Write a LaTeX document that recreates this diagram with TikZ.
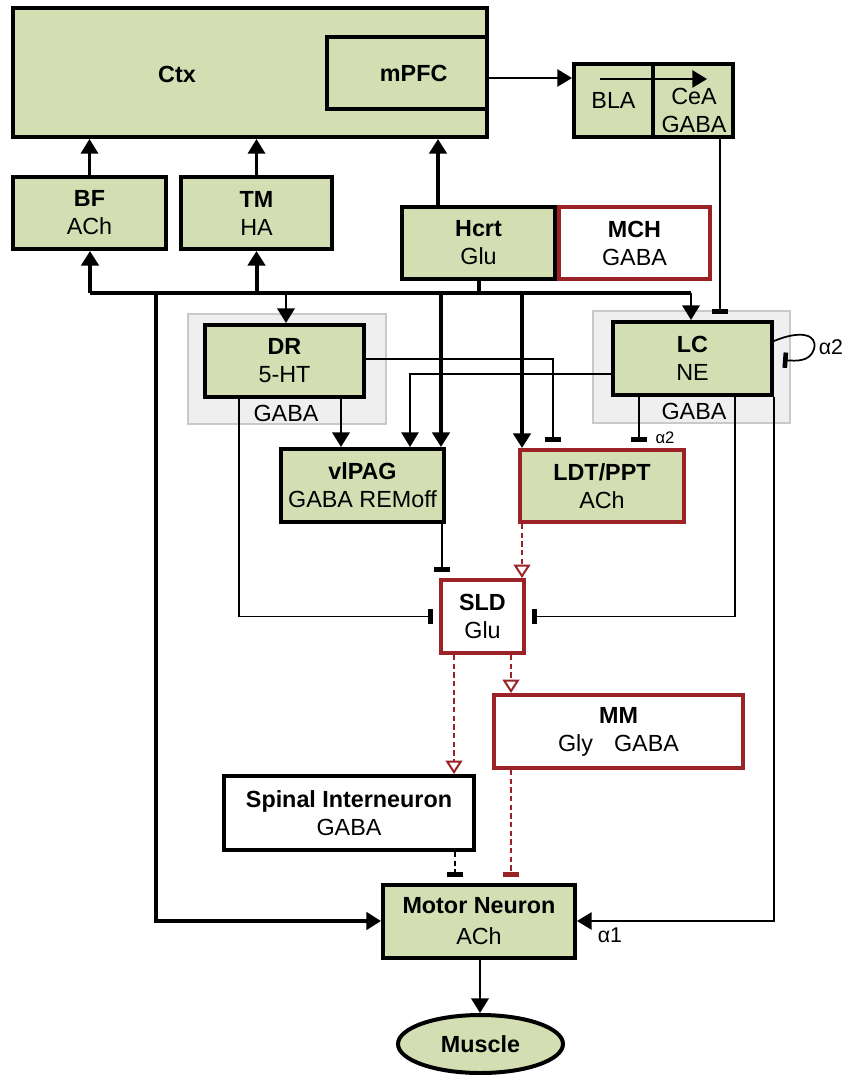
\documentclass[tikz,border=0pt]{standalone}
\usepackage{fontspec}
\setmainfont{Liberation Sans}
\usetikzlibrary{arrows.meta,shapes.geometric}
\definecolor{bgreen}{HTML}{D3DEB2}
\definecolor{bred}{HTML}{9B2226}
\definecolor{gbg}{HTML}{EFEFEF}
\definecolor{gbd}{HTML}{C9C9C9}
\tikzset{
  sz/.style 2 args={minimum width=#1*0.75pt, minimum height=#2*0.75pt},
  txt/.style={font=\fontsize{17.5}{21}\selectfont, align=center, inner sep=0pt},
  gbox/.style={txt, draw=black, line width=3pt, fill=bgreen},
  wbox/.style={gbox, fill=white},
  rgbox/.style={gbox, draw=bred},
  rwbox/.style={gbox, draw=bred, fill=white},
  greybg/.style={draw=gbd, line width=1pt, fill=gbg, inner sep=0pt},
  thinl/.style={line width=1.3pt},
  medl/.style={line width=1.9pt},
  thickl/.style={line width=3pt},
  tri/.style={-{Triangle[length=11pt,width=13pt]}},
  otri/.style={-{Triangle[open,length=10pt,width=12.5pt,fill=white]}},
  inh/.style={-{Rectangle[length=3.5pt,width=11.5pt]}, shorten >=4.5pt},
  rdash/.style={draw=bred, line width=1.5pt, dash pattern=on 4pt off 2.5pt},
  kdash/.style={draw=black, line width=1.5pt, dash pattern=on 4pt off 2.5pt},
  alab/.style={font=\fontsize{16}{18}\selectfont, inner sep=0pt},
  salab/.style={font=\fontsize{12.5}{14}\selectfont, inner sep=0pt},
}
\begin{document}
\begin{tikzpicture}[x=0.75pt,y=-0.75pt]
\useasboundingbox (0,0) rectangle (843,1075);
% grey backgrounds
\node[greybg, sz={198}{110}] (drbg) at (287,369) {};
\node[greybg, sz={197}{112}] (lcbg) at (691.5,367) {};
\node[txt] (drgaba) at (286,413) {GABA};
\node[txt] (lcgaba) at (694,411) {GABA};
% boxes
\node[gbox, sz={474}{129}] (ctx) at (250,72.5) {};
\node[txt] (ctxt) at (177,74) {\bfseries Ctx};
\node[gbox, sz={160}{72}] (mpfc) at (407,73) {\hspace*{10pt}\bfseries mPFC};
\node[gbox, sz={79}{73}] (bla) at (613.5,100.5) {BLA};
\node[gbox, sz={80}{73}] (cea) at (693,100.5) {};
\node[txt] (ceat) at (694,110.5) {CeA\\GABA};
\node[gbox, sz={153}{72}] (bf) at (89.5,213) {\textbf{BF}\\ACh};
\node[gbox, sz={151}{72}] (tm) at (256.5,213) {\textbf{TM}\\HA};
\node[gbox, sz={153}{72}] (hcrt) at (478.5,243) {\textbf{Hcrt}\\Glu};
\node[rwbox, sz={151}{72}] (mch) at (634.5,243) {\textbf{MCH}\\GABA};
\node[gbox, sz={159}{72}] (dr) at (284.5,361) {\textbf{DR}\\5-HT};
\node[gbox, sz={159}{73}] (lc) at (692.5,358.5) {\textbf{LC}\\NE};
\node[gbox, sz={163}{73}] (vlpag) at (362.5,485.5) {\textbf{vlPAG}\\GABA REMoff};
\node[rgbox, sz={164}{72}] (ldt) at (602,486) {\textbf{LDT/PPT}\\ACh};
\node[rwbox, sz={83}{73}] (sld) at (482.5,616.5) {\textbf{SLD}\\Glu};
\node[rwbox, sz={249}{73}] (mm) at (618.5,731.5) {\textbf{MM}\\Gly\hspace{0.9em}GABA};
\node[wbox, sz={250}{74}] (spinal) at (349,813) {\textbf{Spinal Interneuron}\\GABA};
\node[gbox, sz={192}{73}] (motor) at (479,921) {\textbf{Motor Neuron}\\[2pt]ACh};
\node[gbox, ellipse, sz={165}{58}] (muscle) at (480.5,1044) {\bfseries Muscle};
% bus
\coordinate (busL) at (90,293);
\coordinate (busR) at (691,293);
\draw[thickl] (busL) -- (busR);
\draw[thickl] (hcrt.south) -- (hcrt.south |- busL);
% upward to cortex
\draw[medl, tri] (bf.north) -- (bf.north |- ctx.south);
\draw[medl, tri] (tm.north) -- (tm.north |- ctx.south);
\draw[thickl, tri] (hcrt.north -| 438,0) -- (ctx.south -| 438,0);
% bus branches
\draw[thickl, tri] (busL) -- (busL |- bf.south);
\draw[thickl, tri] (tm.south |- busL) -- (tm.south);
\draw[medl, tri] (busL -| 286,0) -- (dr.north -| 286,0);
\draw[thickl, tri] (busL -| 441,0) -- (vlpag.north -| 441,0);
\draw[thickl, tri] (busL -| 522,0) -- (ldt.north -| 522,0);
\draw[medl, tri] (busR) -- (busR |- lc.north);
\draw[thickl, tri] (busL -| 156,0) |- (motor.west);
% amygdala
\draw[thinl, tri] (mpfc.east |- 0,78) -- (bla.west |- 0,78);
\draw[thinl, tri] (bla.north west) ++(28,17) coordinate (ia) -- (ia -| 707,0);
\draw[thinl, inh] (cea.south -| 720,0) -- (lc.north -| 720,0);
% DR and LC projections
\draw[medl, tri] (dr.south -| 341,0) -- (vlpag.north -| 341,0);
\draw[thinl, inh] (dr.east |- 0,359) -| (ldt.north -| 553,0);
\draw[thinl, tri] (lc.west |- 0,374) -| (vlpag.north -| 410,0);
\draw[thinl, inh] (lc.south -| 639,0) -- (ldt.north -| 639,0);
\node[salab] (a2ldt) at (665,438) {α2};
\draw[thinl, inh] (dr.south -| 239,0) |- (sld.west);
\draw[thinl, inh] (lc.south -| 735,0) |- (sld.east);
\draw[thinl, tri] (lc.south east) |- (motor.east);
\node[alab] (a1) at (610,935) {α1};
\draw[thinl, -{Rectangle[length=3.5pt,width=11.5pt]}] (lc.east |- 0,341) .. controls (800,330) and (818,334) .. (814,349) .. controls (810,362) and (796,361) .. (783,360);
\node[alab] (a2lc) at (831,347) {α2};
% to SLD
\draw[thinl, inh] (vlpag.south -| 442,0) -- (sld.north -| 442,0);
\draw[rdash, otri] (ldt.south -| 522,0) -- (sld.north -| 522,0);
% from SLD
\draw[rdash, otri] (sld.south -| 454,0) -- (spinal.north -| 454,0);
\draw[rdash, otri] (sld.south -| 511,0) -- (mm.north -| 511,0);
\draw[rdash, inh] (mm.south -| 511,0) -- (motor.north -| 511,0);
\draw[kdash, inh] (spinal.south -| 455,0) -- (motor.north -| 455,0);
\draw[medl, tri] (motor.south -| 480,0) -- (muscle.north -| 480,0);
\end{tikzpicture}
\end{document}
